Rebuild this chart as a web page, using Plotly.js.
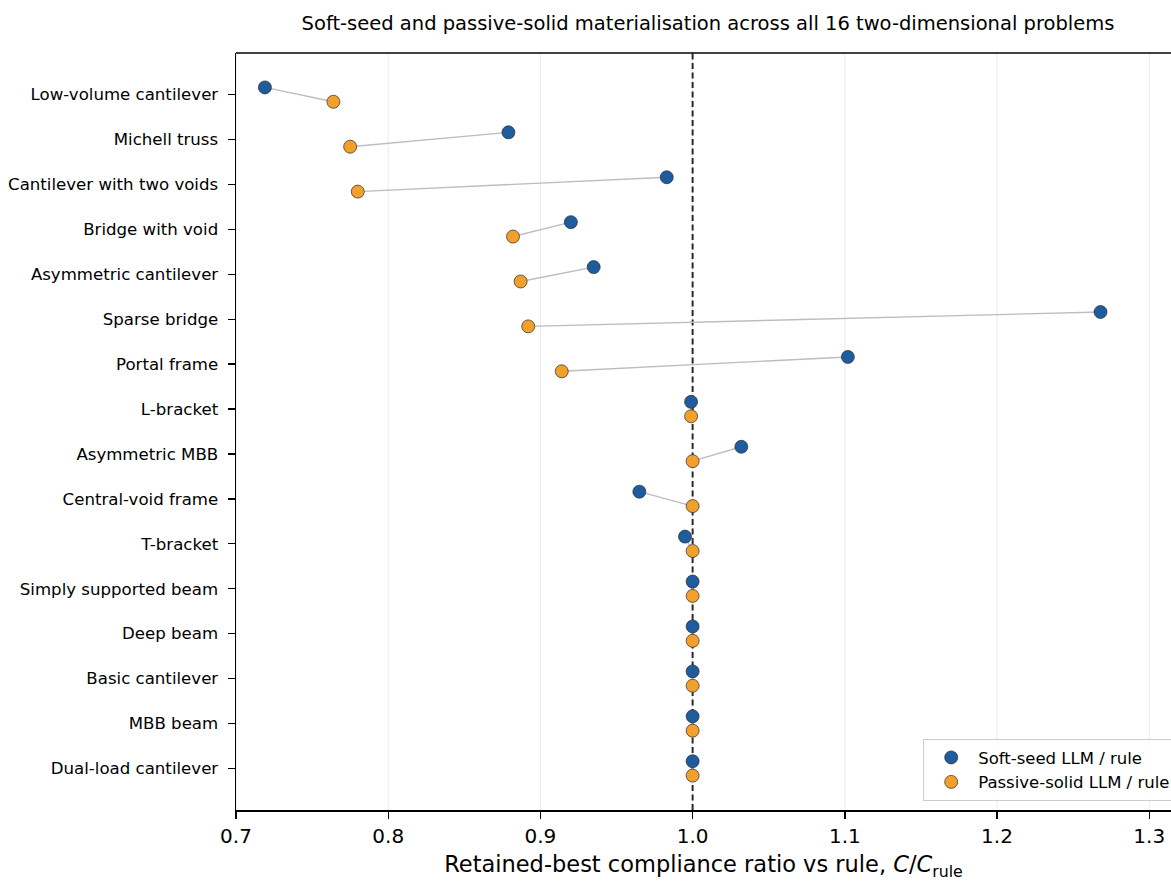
<!DOCTYPE html>
<html>
<head>
<meta charset="utf-8">
<script src="https://cdn.plot.ly/plotly-3.0.1.min.js"></script>
<style>
  html, body { margin: 0; padding: 0; background: #ffffff; overflow: hidden; }
  #chart { width: 1171px; height: 881px; }
</style>
</head>
<body>
<div id="chart"></div>
<script>
// ---- Data ----
const problems = [
  "Low-volume cantilever",
  "Michell truss",
  "Cantilever with two voids",
  "Bridge with void",
  "Asymmetric cantilever",
  "Sparse bridge",
  "Portal frame",
  "L-bracket",
  "Asymmetric MBB",
  "Central-void frame",
  "T-bracket",
  "Simply supported beam",
  "Deep beam",
  "Basic cantilever",
  "MBB beam",
  "Dual-load cantilever"
];
const softSeedRatio = [0.719, 0.879, 0.983, 0.920, 0.935, 1.268, 1.102, 0.999, 1.032, 0.965, 0.995, 1.000, 1.000, 1.000, 1.000, 1.000];
const passiveSolidRatio = [0.764, 0.775, 0.780, 0.882, 0.887, 0.892, 0.914, 0.999, 1.000, 1.000, 1.000, 1.000, 1.000, 1.000, 1.000, 1.000];
const xTickVals = [0.7, 0.8, 0.9, 1.0, 1.1, 1.2, 1.3];
const xTickText = ["0.7", "0.8", "0.9", "1.0", "1.1", "1.2", "1.3"];
const seriesNames = ["Soft-seed LLM / rule", "Passive-solid LLM / rule"];
const referenceRatio = 1.0;

// ---- Styling ----
const OFFSET = 0.16;
const BLUE = "#1f5c9e";
const ORANGE = "#f0a02b";
const FONT = "DejaVu Sans, sans-serif";

const rowIdx = problems.map((_, i) => i);
const ySoft = rowIdx.map(i => i - OFFSET);
const yPassive = rowIdx.map(i => i + OFFSET);

// connector lines between the pair for each problem
const connX = [], connY = [];
rowIdx.forEach(i => {
  connX.push(softSeedRatio[i], passiveSolidRatio[i], null);
  connY.push(ySoft[i], yPassive[i], null);
});

const traces = [
  {
    x: connX, y: connY, type: "scatter", mode: "lines",
    line: {color: "#bdbdbd", width: 1.4},
    hoverinfo: "skip", showlegend: false
  },
  {
    x: softSeedRatio, y: ySoft, type: "scatter", mode: "markers",
    name: seriesNames[0],
    marker: {size: 13, color: BLUE, line: {color: "#2b2b2b", width: 0.7}}
  },
  {
    x: passiveSolidRatio, y: yPassive, type: "scatter", mode: "markers",
    name: seriesNames[1],
    marker: {size: 13, color: ORANGE, line: {color: "#2b2b2b", width: 0.7}}
  }
];

// vertical grid lines (drawn as shapes so the reference line sits above them)
const gridShapes = xTickVals.map(v => ({
  type: "line", xref: "x", yref: "paper",
  x0: v, x1: v, y0: 0, y1: 1,
  line: {color: "#ebebeb", width: 1},
  layer: "below"
}));

const layout = {
  width: 1171, height: 881,
  paper_bgcolor: "#ffffff", plot_bgcolor: "#ffffff",
  margin: {l: 236, r: 0, t: 53, b: 71, pad: 0, autoexpand: false},
  font: {family: FONT, color: "#000000"},
  title: {
    text: "Soft-seed and passive-solid materialisation across all 16 two-dimensional problems",
    font: {family: FONT, size: 19.5, color: "#000000"},
    x: 708 / 1171, xanchor: "center", xref: "container",
    y: 1 - 23 / 881, yanchor: "middle", yref: "container"
  },
  xaxis: {
    range: [0.7, 1.3143],
    tickvals: xTickVals, ticktext: xTickText,
    tickfont: {family: FONT, size: 20, color: "#000000"},
    ticks: "outside", ticklen: 7, tickwidth: 1.4, tickcolor: "#000000",
    showline: true, linecolor: "#000000", linewidth: 1.5,
    showgrid: false,
    zeroline: false, automargin: false,
    title: {
      text: "Retained-best compliance ratio vs rule, <i>C</i>/<i>C</i><sub>rule</sub>",
      font: {family: FONT, size: 22.5, color: "#000000"},
      standoff: 15
    }
  },
  yaxis: {
    range: [15.926, -0.926],
    tickvals: rowIdx, ticktext: problems,
    tickfont: {family: FONT, size: 16.6, color: "#000000"},
    ticks: "outside", ticklen: 7, tickwidth: 1.4, tickcolor: "#000000",
    ticklabelstandoff: 6,
    showline: true, linecolor: "#000000", linewidth: 1.5,
    showgrid: false, zeroline: false, automargin: false
  },
  shapes: gridShapes.concat([
    {
      type: "line", xref: "x", yref: "paper",
      x0: referenceRatio, x1: referenceRatio, y0: 0, y1: 1,
      line: {color: "#2a2a2a", width: 2, dash: "6px,3.5px"},
      layer: "below"
    },
    {
      type: "line", xref: "paper", yref: "paper",
      x0: 0, x1: 1, y0: 1, y1: 1,
      line: {color: "#000000", width: 1.5}
    }
  ]),
  legend: {
    x: (923 - 236) / (1171 - 236), xanchor: "left",
    y: (810 - 801) / (810 - 53), yanchor: "bottom",
    bgcolor: "rgba(255,255,255,0.85)", bordercolor: "#cccccc", borderwidth: 1.2,
    font: {family: FONT, size: 16.5, color: "#000000"},
    itemwidth: 44, tracegroupgap: 0
  },
  showlegend: true
};

Plotly.newPlot("chart", traces, layout, {displayModeBar: false, staticPlot: true});
</script>
</body>
</html>
